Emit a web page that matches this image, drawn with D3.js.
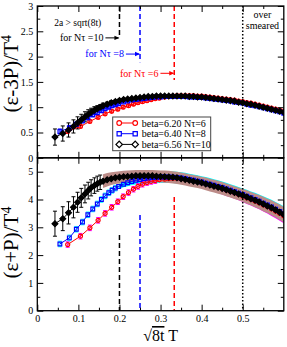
<!DOCTYPE html>
<html>
<head>
<meta charset="utf-8">
<script src="https://cdn.jsdelivr.net/npm/d3@7"></script>
<style>
  body { margin: 0; background: #fff; }
  text { font-family: "Liberation Serif", "Times New Roman", serif; }
</style>
</head>
<body>
<div id="chart"></div>
<script>
// ---- data ----
// flow-time points, x = sqrt(8t) T
var xNt10 = [0.043,0.062,0.076,0.088,0.098,0.107,0.116,0.124,0.131,0.139,0.146,0.153,0.160,0.170,0.180,0.190,0.200,
  0.21,0.22,0.23,0.24,0.25,0.26,0.27,0.28,0.29,0.30,0.31,0.32,0.33,0.34,0.35,0.36,0.37,0.38,0.39,0.40,
  0.41,0.42,0.43,0.44,0.45,0.46,0.47,0.48,0.49,0.50,0.51,0.52,0.53,0.54,0.55,0.56,0.57,0.58,0.59,0.60];
var xNt8 = [0.055,0.078,0.095,0.110,0.123,0.135,0.146,0.156,0.165,0.174,0.182,0.190,0.198,
  0.21,0.22,0.23,0.24,0.25,0.26,0.27,0.28,0.29,0.30,0.31,0.32,0.33,0.34,0.35,0.36,0.37,0.38,0.39,0.40,
  0.41,0.42,0.43,0.44,0.45,0.46,0.47,0.48,0.49,0.50,0.51,0.52,0.53,0.54,0.55,0.56,0.57,0.58,0.59,0.60];
var xNt6 = [0.074,0.105,0.128,0.148,0.165,0.181,0.196,0.209,0.222,0.234,0.245,0.256,0.267,0.277,0.287,0.297,
  0.31,0.32,0.33,0.34,0.35,0.36,0.37,0.38,0.39,0.40,
  0.41,0.42,0.43,0.44,0.45,0.46,0.47,0.48,0.49,0.50,
  0.51,0.52,0.53,0.54,0.55,0.56,0.57,0.58,0.59,0.60];

// (e-3P)/T^4
var trace10 = [0.41,0.48,0.55,0.62,0.69,0.75,0.81,0.86,0.90,0.94,0.97,1.00,1.03,1.06,1.09,1.11,1.13,
  1.15,1.16,1.17,1.18,1.19,1.20,1.21,1.21,1.22,1.22,1.22,1.22,1.22,1.22,1.22,1.22,1.21,1.21,1.20,1.20,
  1.19,1.18,1.17,1.16,1.15,1.14,1.13,1.12,1.10,1.09,1.07,1.06,1.04,1.02,1.00,0.98,0.96,0.94,0.92,0.90];
var traceErr10 = [0.16,0.15,0.14,0.13,0.12,0.11,0.10,0.09,0.08,0.07,0.06,0.05,0.05,0.04,0.04,0.03,0.03,
  0.02,0.02,0.02,0.02,0.02,0.02,0.02,0.02,0.02,0.02,0.02,0.02,0.02,0.02,0.02,0.02,0.02,0.02,0.02,0.02,
  0.02,0.02,0.02,0.02,0.02,0.02,0.02,0.02,0.02,0.02,0.02,0.02,0.02,0.02,0.02,0.02,0.02,0.02,0.02,0.02];
var trace8 = [0.52,0.59,0.66,0.73,0.79,0.85,0.89,0.93,0.97,1.00,1.03,1.05,1.07,
  1.10,1.12,1.14,1.15,1.16,1.17,1.18,1.19,1.20,1.20,1.21,1.21,1.21,1.21,1.21,1.21,1.20,1.20,1.19,1.19,
  1.18,1.17,1.16,1.15,1.14,1.13,1.12,1.10,1.09,1.08,1.06,1.04,1.03,1.01,0.99,0.97,0.95,0.93,0.91,0.88];
var traceErr8 = [0.05,0.05,0.05,0.04,0.04,0.04,0.04,0.03,0.03,0.03,0.03,0.03,0.03,
  0.02,0.02,0.02,0.02,0.02,0.02,0.02,0.02,0.02,0.02,0.02,0.02,0.02,0.02,0.02,0.02,0.02,0.02,0.02,0.02,
  0.02,0.02,0.02,0.02,0.02,0.02,0.02,0.02,0.02,0.02,0.02,0.02,0.02,0.02,0.02,0.02,0.02,0.02,0.02,0.02];
var trace6 = [0.52,0.62,0.72,0.80,0.87,0.92,0.96,1.00,1.03,1.06,1.09,1.11,1.13,1.15,1.17,1.18,
  1.20,1.21,1.22,1.23,1.23,1.23,1.23,1.23,1.22,1.22,
  1.21,1.20,1.19,1.18,1.17,1.16,1.15,1.14,1.12,1.11,
  1.09,1.08,1.06,1.04,1.02,1.00,0.98,0.96,0.94,0.92];
var traceErr6 = [0.03,0.03,0.03,0.03,0.03,0.03,0.03,0.03,0.03,0.03,0.03,0.03,0.03,0.03,0.03,0.03,
  0.02,0.02,0.02,0.02,0.02,0.02,0.02,0.02,0.02,0.02,
  0.02,0.02,0.02,0.02,0.02,0.02,0.02,0.02,0.02,0.02,
  0.02,0.02,0.02,0.02,0.02,0.02,0.02,0.02,0.02,0.02];

// (e+P)/T^4
var entropy10 = [3.13,3.31,3.52,3.72,3.90,4.06,4.20,4.32,4.42,4.50,4.57,4.62,4.66,4.71,4.75,4.78,4.80,
  4.82,4.83,4.84,4.85,4.85,4.85,4.85,4.85,4.84,4.83,4.82,4.81,4.80,4.78,4.75,4.72,4.69,4.66,4.63,4.60,
  4.56,4.52,4.48,4.44,4.40,4.35,4.30,4.25,4.20,4.15,4.09,4.03,3.97,3.91,3.84,3.77,3.70,3.62,3.54,3.45];
var entropyErr10 = [0.45,0.43,0.40,0.38,0.36,0.34,0.32,0.30,0.29,0.28,0.27,0.26,0.25,0.24,0.23,0.22,0.22,
  0.21,0.21,0.21,0.21,0.21,0.21,0.21,0.21,0.21,0.21,0.22,0.22,0.22,0.22,0.22,0.22,0.22,0.22,0.22,0.22,
  0.23,0.23,0.23,0.23,0.23,0.23,0.23,0.23,0.23,0.23,0.24,0.24,0.25,0.25,0.26,0.26,0.27,0.27,0.28,0.28];
var entropy8 = [2.40,2.62,2.93,3.19,3.45,3.66,3.84,4.00,4.13,4.24,4.33,4.41,4.47,
  4.55,4.60,4.65,4.69,4.72,4.75,4.77,4.79,4.80,4.81,4.81,4.81,4.80,4.79,4.77,4.75,4.72,4.69,4.66,4.63,
  4.59,4.55,4.51,4.47,4.43,4.38,4.33,4.28,4.23,4.18,4.12,4.06,4.00,3.94,3.87,3.80,3.73,3.65,3.57,3.49];
var entropyErr8 = [0.10,0.10,0.10,0.10,0.10,0.10,0.10,0.10,0.10,0.10,0.10,0.10,0.10,
  0.11,0.12,0.13,0.15,0.17,0.18,0.19,0.20,0.21,0.21,0.21,0.21,0.21,0.21,0.21,0.21,0.21,0.21,0.21,0.21,
  0.22,0.22,0.22,0.22,0.22,0.22,0.22,0.22,0.22,0.22,0.23,0.23,0.24,0.24,0.25,0.25,0.26,0.26,0.27,0.27];
var entropy6 = [2.38,2.68,2.98,3.25,3.50,3.72,3.92,4.10,4.25,4.37,4.47,4.55,4.61,4.65,4.68,4.71,
  4.73,4.75,4.76,4.76,4.75,4.73,4.71,4.68,4.65,4.61,
  4.57,4.53,4.49,4.44,4.39,4.34,4.29,4.24,4.18,4.12,
  4.06,4.00,3.94,3.88,3.81,3.74,3.66,3.58,3.50,3.41];
var entropyErr6 = [0.10,0.10,0.10,0.10,0.10,0.10,0.10,0.10,0.10,0.10,0.10,0.10,0.10,0.10,0.10,0.10,
  0.12,0.14,0.16,0.17,0.18,0.19,0.19,0.20,0.20,0.20,
  0.21,0.21,0.21,0.21,0.21,0.21,0.21,0.21,0.21,0.21,
  0.22,0.22,0.23,0.23,0.24,0.24,0.25,0.25,0.26,0.26];

var legendNames = ["beta=6.20 N\u03c4=6", "beta=6.40 N\u03c4=8", "beta=6.56 N\u03c4=10"];

// 2a > sqrt(8t) limits for Nt = 10, 8, 6
var cutX = [0.2, 0.25, 1 / 3];
var cutTopEnd = [2.37, 1.89, 1.54];
var cutArrowY = [2.37, 2.05, 1.67];
var cutBotStart = [2.72, 3.44, 4.09];
var cutLabels = ["for N\u03c4 =10", "for N\u03c4 =8", "for N\u03c4 =6"];
var cutLabelX = [0.055, 0.117, 0.201];
var smearX = 0.5;

var xTicks = [0, 0.1, 0.2, 0.3, 0.4, 0.5];
var xTickLabels = ["0", "0.1", "0.2", "0.3", "0.4", "0.5"];
var xMinor = [0.05, 0.15, 0.25, 0.35, 0.45, 0.55];
var topTicks = [0, 0.5, 1, 1.5, 2, 2.5, 3];
var topTickLabels = ["0", "0.5", "1", "1.5", "2", "2.5", "3"];
var topMinor = [0.25, 0.75, 1.25, 1.75, 2.25, 2.75];
var botTicks = [0, 1, 2, 3, 4, 5];
var botTickLabels = ["0", "1", "2", "3", "4", "5"];
var botMinor = [0.5, 1.5, 2.5, 3.5, 4.5];

// ---- chart ----
var svg = d3.select("#chart").append("svg").attr("width", 287).attr("height", 347);

var x = d3.scaleLinear().domain([0, 0.6]).range([37.3, 283.8]);
var yTop = d3.scaleLinear().domain([0, 3]).range([157.8, 6]);
var yBot = d3.scaleLinear().domain([0, 5.5]).range([310.7, 157.8]);

var cols = ["#ff0000", "#0000ff", "#000000"];
var bandCols = ["#ff00ff", "#00ffff", "#bc8c88"];
// black points are diamonds: a square turned by 45 degrees
var series = [
  { color: cols[0], sym: d3.symbolCircle, size: 13, rot: 0, fill: "none", xs: xNt6, top: trace6, topErr: traceErr6, bot: entropy6, botErr: entropyErr6, band: bandCols[0], bandFrom: 0.297 },
  { color: cols[1], sym: d3.symbolSquare, size: 14, rot: 0, fill: "none", xs: xNt8, top: trace8, topErr: traceErr8, bot: entropy8, botErr: entropyErr8, band: bandCols[1], bandFrom: 0.198 },
  { color: cols[2], sym: d3.symbolSquare, size: 17, rot: 45, fill: cols[2], xs: xNt10, top: trace10, topErr: traceErr10, bot: entropy10, botErr: entropyErr10, band: bandCols[2], bandFrom: 0.16 }
];

svg.append("defs").append("clipPath").attr("id", "plotclip")
  .append("rect")
  .attr("x", x(0)).attr("y", yTop(3))
  .attr("width", x(0.6) - x(0)).attr("height", yBot(0) - yTop(3));

function drawPanel(y, vKey, eKey, bottom) {
  var g = svg.append("g").attr("clip-path", "url(#plotclip)");
  var pts = series.map(function (s) {
    return s.xs.map(function (xv, i) { return { x: xv, v: s[vKey][i], e: s[eKey][i] }; });
  });

  // error bands where the points pile up (lower panel)
  if (bottom) {
    series.forEach(function (s, k) {
      var dense = pts[k].filter(function (d) { return d.x >= s.bandFrom; });
      g.append("path").datum(dense)
        .attr("fill", s.band)
        .attr("d", d3.area()
          .x(function (d) { return x(d.x); })
          .y0(function (d) { return y(d.v - d.e); })
          .y1(function (d) { return y(d.v + d.e); }));
    });
  }

  // error bars
  series.forEach(function (s, k) {
    var bars = bottom ? pts[k].filter(function (d) { return d.x < s.bandFrom; }) : pts[k];
    var c = bottom && k < 2 ? s.band : s.color;
    g.append("g").selectAll("path").data(bars).enter().append("path")
      .attr("fill", "none").attr("stroke", c).attr("stroke-width", 1)
      .attr("d", function (d) {
        var px = x(d.x), hi = y(d.v + d.e), lo = y(d.v - d.e);
        return "M" + (px - 2) + "," + hi + "h4M" + px + "," + hi + "V" + lo + "M" + (px - 2) + "," + lo + "h4";
      });
  });

  // lines and symbols
  series.forEach(function (s, k) {
    g.append("path").datum(pts[k])
      .attr("fill", "none").attr("stroke", s.color).attr("stroke-width", 1)
      .attr("d", d3.line().x(function (d) { return x(d.x); }).y(function (d) { return y(d.v); }));
    g.append("g").selectAll("path").data(pts[k]).enter().append("path")
      .attr("transform", function (d) { return "translate(" + x(d.x) + "," + y(d.v) + ") rotate(" + s.rot + ")"; })
      .attr("d", d3.symbol().type(s.sym).size(s.size))
      .attr("fill", s.fill).attr("stroke", s.color).attr("stroke-width", 1.2);
  });
}

drawPanel(yTop, "top", "topErr", false);
drawPanel(yBot, "bot", "botErr", true);

// dashed 2a > sqrt(8t) lines
cutX.forEach(function (cx, i) {
  svg.append("line")
    .attr("x1", x(cx)).attr("x2", x(cx))
    .attr("y1", yTop(3)).attr("y2", yTop(cutTopEnd[i]))
    .attr("stroke", cols[2 - i]).attr("stroke-width", 1.5).attr("stroke-dasharray", "5,3");
  svg.append("line")
    .attr("x1", x(cx)).attr("x2", x(cx))
    .attr("y1", yBot(cutBotStart[i])).attr("y2", yBot(0))
    .attr("stroke", cols[2 - i]).attr("stroke-width", 1.5).attr("stroke-dasharray", "5,3");
});

// over smeared line
svg.append("line")
  .attr("x1", x(smearX)).attr("x2", x(smearX))
  .attr("y1", yTop(3)).attr("y2", yBot(0))
  .attr("stroke", "#000").attr("stroke-width", 1.5).attr("stroke-dasharray", "1.5,2");

// annotations
svg.append("text").attr("x", x(0.041)).attr("y", yTop(2.6))
  .attr("font-size", 9.5).text("2a > sqrt(8t)");
cutLabels.forEach(function (t, i) {
  var c = cols[2 - i];
  var ay = yTop(cutArrowY[i]);
  var txt = svg.append("text").attr("x", x(cutLabelX[i])).attr("y", ay + 3.3)
    .attr("font-size", 10).attr("fill", c).text(t);
  var end = txt.node().getComputedTextLength() + x(cutLabelX[i]) + 2;
  svg.append("line").attr("x1", end).attr("x2", x(cutX[i]) - 1)
    .attr("y1", ay).attr("y2", ay).attr("stroke", c).attr("stroke-width", 1);
  svg.append("path")
    .attr("d", "M" + (x(cutX[i]) - 5) + "," + (ay - 2.2) + "L" + x(cutX[i]) + "," + ay + "L" + (x(cutX[i]) - 5) + "," + (ay + 2.2) + "Z")
    .attr("fill", c);
});
svg.append("text").attr("x", x(0.548)).attr("y", yTop(2.76))
  .attr("text-anchor", "middle").attr("font-size", 10).text("over");
svg.append("text").attr("x", x(0.548)).attr("y", yTop(2.54))
  .attr("text-anchor", "middle").attr("font-size", 10).text("smeared");

// legend
var lg = svg.append("g").attr("transform", "translate(112.7,117)");
lg.append("rect").attr("width", 98).attr("height", 33.7)
  .attr("fill", "#fff").attr("stroke", "#444").attr("stroke-width", 1);
series.forEach(function (s, i) {
  var ly = 6 + i * 10.7;
  lg.append("line").attr("x1", 6.5).attr("x2", 22.5).attr("y1", ly).attr("y2", ly)
    .attr("stroke", s.color).attr("stroke-width", 1);
  [6.5, 22.5].forEach(function (mx) {
    lg.append("path").attr("transform", "translate(" + mx + "," + ly + ") rotate(" + s.rot + ")")
      .attr("d", d3.symbol().type(s.sym).size(s.size + 4))
      .attr("fill", "#fff").attr("stroke", s.color).attr("stroke-width", 1.2);
  });
  lg.append("text").attr("x", 29).attr("y", ly + 3.5).attr("font-size", 10).text(legendNames[i]);
});

// axes and frame
function styleAxis(g) {
  g.select(".domain").remove();
  g.selectAll("line").attr("stroke", "#000");
  g.selectAll("text").attr("font-size", 10).attr("fill", "#000")
    .attr("font-family", "Liberation Serif, serif");
}
function panelAxes(y, ticks, labels, minor, showX) {
  var y0 = y.range()[0], y1 = y.range()[1];
  svg.append("g").attr("transform", "translate(0," + y0 + ")")
    .call(d3.axisBottom(x).tickValues(xTicks).tickSize(-6).tickPadding(4)
      .tickFormat(function (d, i) { return showX ? xTickLabels[i] : ""; })).call(styleAxis);
  svg.append("g").attr("transform", "translate(0," + y0 + ")")
    .call(d3.axisBottom(x).tickValues(xMinor).tickSize(-3).tickFormat("")).call(styleAxis);
  svg.append("g").attr("transform", "translate(0," + y1 + ")")
    .call(d3.axisTop(x).tickValues(xTicks).tickSize(-6).tickFormat("")).call(styleAxis);
  svg.append("g").attr("transform", "translate(0," + y1 + ")")
    .call(d3.axisTop(x).tickValues(xMinor).tickSize(-3).tickFormat("")).call(styleAxis);
  svg.append("g").attr("transform", "translate(" + x(0) + ",0)")
    .call(d3.axisLeft(y).tickValues(ticks).tickSize(-6).tickPadding(4)
      .tickFormat(function (d, i) { return labels[i]; })).call(styleAxis);
  svg.append("g").attr("transform", "translate(" + x(0) + ",0)")
    .call(d3.axisLeft(y).tickValues(minor).tickSize(-3).tickFormat("")).call(styleAxis);
  svg.append("g").attr("transform", "translate(" + x(0.6) + ",0)")
    .call(d3.axisRight(y).tickValues(ticks).tickSize(-6).tickFormat("")).call(styleAxis);
  svg.append("g").attr("transform", "translate(" + x(0.6) + ",0)")
    .call(d3.axisRight(y).tickValues(minor).tickSize(-3).tickFormat("")).call(styleAxis);
  svg.append("rect").attr("x", x(0)).attr("y", y1)
    .attr("width", x(0.6) - x(0)).attr("height", y0 - y1)
    .attr("fill", "none").attr("stroke", "#000").attr("stroke-width", 1.3);
}
panelAxes(yTop, topTicks, topTickLabels, topMinor, false);
panelAxes(yBot, botTicks, botTickLabels, botMinor, true);

// axis titles
var t1 = svg.append("text").attr("transform", "translate(18," + yTop(1.66) + ") rotate(-90)")
  .attr("text-anchor", "middle").attr("font-size", 21);
t1.append("tspan").text("(\u03b5-3P)/T");
t1.append("tspan").attr("font-size", 14).attr("dy", -7).text("4");
var t2 = svg.append("text").attr("transform", "translate(18," + yBot(2.45) + ") rotate(-90)")
  .attr("text-anchor", "middle").attr("font-size", 21);
t2.append("tspan").text("(\u03b5+P)/T");
t2.append("tspan").attr("font-size", 14).attr("dy", -7).text("4");

var xt = svg.append("text").attr("x", x(0.3)).attr("y", 341)
  .attr("text-anchor", "middle").attr("font-size", 16);
xt.append("tspan").text("\u221a");
xt.append("tspan").style("text-decoration", "overline").text("8t");
xt.append("tspan").text(" T");
</script>
</body>
</html>
